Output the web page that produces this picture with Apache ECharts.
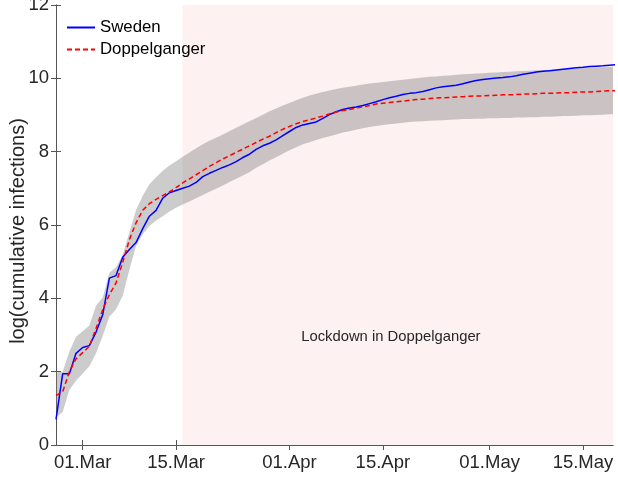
<!DOCTYPE html>
<html>
<head>
<meta charset="utf-8">
<script src="https://cdn.jsdelivr.net/npm/echarts@6/dist/echarts.min.js"></script>
<style>
  html, body { margin: 0; padding: 0; background: #fff; }
  #chart { width: 618px; height: 478px; }
</style>
</head>
<body>
<div id="chart"></div>
<script>
// days counted from 26.Feb.2020 (day 0)
var days = [];
for (var d = 0; d <= 84; d++) days.push(d);

var tickDays = [4, 18, 35, 49, 65, 79];
var tickLabels = ['01.Mar', '15.Mar', '01.Apr', '15.Apr', '01.May', '15.May'];
var lockdownStart = 18.95; // ~16.Mar
var xMax = 83.5;

var sweden = [
  0.70, 1.94, 1.94, 2.50, 2.66, 2.71, 3.08, 3.55, 4.55, 4.62,
  5.12, 5.33, 5.52, 5.90, 6.24, 6.40, 6.73, 6.88, 6.94, 7.00,
  7.06, 7.16, 7.32, 7.41, 7.49, 7.57, 7.64, 7.73, 7.84, 7.93,
  8.06, 8.16, 8.23, 8.32, 8.44, 8.55, 8.66, 8.73, 8.77, 8.81,
  8.91, 9.01, 9.09, 9.15, 9.19, 9.22, 9.26, 9.31, 9.36, 9.42,
  9.47, 9.51, 9.56, 9.59, 9.61, 9.64, 9.69, 9.74, 9.77, 9.79,
  9.81, 9.85, 9.90, 9.94, 9.97, 9.99, 10.01, 10.02, 10.04, 10.07,
  10.11, 10.14, 10.17, 10.19, 10.21, 10.23, 10.25, 10.27, 10.29, 10.30,
  10.32, 10.33, 10.34, 10.36, 10.37
];

var doppelganger = [
  1.35, 1.45, 2.00, 2.35, 2.52, 2.69, 3.18, 3.69, 4.10, 4.42,
  4.98, 5.60, 6.06, 6.40, 6.58, 6.70, 6.80, 6.90, 7.02, 7.15,
  7.26, 7.37, 7.48, 7.60, 7.70, 7.80, 7.89, 7.98, 8.07, 8.16,
  8.25, 8.34, 8.42, 8.52, 8.61, 8.69, 8.76, 8.82, 8.87, 8.92,
  8.97, 9.03, 9.08, 9.12, 9.15, 9.19, 9.22, 9.26, 9.30, 9.32,
  9.34, 9.36, 9.38, 9.40, 9.42, 9.43, 9.45, 9.46, 9.47, 9.48,
  9.49, 9.50, 9.51, 9.52, 9.52, 9.53, 9.54, 9.55, 9.55, 9.56,
  9.57, 9.57, 9.58, 9.59, 9.59, 9.60, 9.61, 9.61, 9.62, 9.63,
  9.63, 9.64, 9.65, 9.66, 9.66
];

var bandUpper = [
  2.00, 2.00, 2.55, 2.95, 3.10, 3.26, 3.80, 4.02, 4.70, 4.85,
  5.19, 5.80, 6.41, 6.80, 7.11, 7.30, 7.48, 7.62, 7.74, 7.86,
  7.98, 8.09, 8.20, 8.30, 8.38, 8.47, 8.56, 8.65, 8.74, 8.83,
  8.92, 9.01, 9.10, 9.18, 9.26, 9.33, 9.40, 9.47, 9.53, 9.58,
  9.63, 9.67, 9.71, 9.74, 9.77, 9.80, 9.83, 9.86, 9.88, 9.90,
  9.92, 9.94, 9.96, 9.98, 10.00, 10.02, 10.04, 10.05, 10.07, 10.08,
  10.10, 10.11, 10.12, 10.13, 10.14, 10.15, 10.16, 10.17, 10.18, 10.19,
  10.20, 10.21, 10.22, 10.23, 10.23, 10.24, 10.25, 10.26, 10.27, 10.28,
  10.29, 10.30, 10.30, 10.31, 10.32
];

var bandLower = [
  0.75, 0.90, 1.50, 1.75, 1.95, 2.15, 2.50, 2.97, 3.50, 3.70,
  4.07, 4.78, 5.43, 5.75, 5.97, 6.12, 6.24, 6.37, 6.47, 6.56,
  6.64, 6.73, 6.82, 6.91, 6.99, 7.08, 7.17, 7.26, 7.35, 7.44,
  7.56, 7.66, 7.76, 7.85, 7.94, 8.04, 8.12, 8.20, 8.26, 8.32,
  8.37, 8.42, 8.47, 8.52, 8.56, 8.60, 8.64, 8.67, 8.70, 8.73,
  8.75, 8.77, 8.79, 8.81, 8.82, 8.83, 8.84, 8.85, 8.86, 8.87,
  8.88, 8.89, 8.89, 8.90, 8.90, 8.91, 8.91, 8.92, 8.92, 8.93,
  8.93, 8.94, 8.94, 8.95, 8.95, 8.96, 8.97, 8.97, 8.98, 8.99,
  8.99, 9.00, 9.01, 9.02, 9.02
];

function pairs(vals) {
  return days.map(function (d, i) { return [d, vals[i]]; });
}

var font = "'Liberation Sans', Arial, sans-serif";
var axisColor = '#555';
var textColor = '#262626';

var myChart = echarts.init(document.getElementById('chart'));
var option = {
  animation: false,
  textStyle: { fontFamily: font },
  grid: { left: 56, right: 5, top: 5, bottom: 33, outerBoundsMode: 'none', show: false },
  legend: {
    orient: 'vertical',
    left: 66,
    top: 19,
    padding: 0,
    itemWidth: 28,
    itemHeight: 14,
    itemGap: 5,
    itemStyle: { opacity: 0 },
    textStyle: { fontSize: 16.8, color: '#000', fontFamily: font, lineHeight: 16.8 },
    data: ['Sweden', 'Doppelganger']
  },
  xAxis: [{
    type: 'value', min: 0, max: xMax,
    splitLine: { show: false },
    axisLine: { lineStyle: { color: axisColor, width: 1 } },
    axisTick: { inside: true, length: 5, customValues: tickDays, lineStyle: { color: axisColor } },
    axisLabel: {
      customValues: tickDays, color: textColor, fontSize: 18.5, margin: 8, fontFamily: font,
      formatter: function (v) { return tickLabels[tickDays.indexOf(v)]; }
    }
  }, {
    type: 'value', min: 0, max: xMax, position: 'top',
    splitLine: { show: false },
    axisLine: { lineStyle: { color: axisColor, width: 1 } },
    axisTick: { inside: true, length: 5, customValues: tickDays, lineStyle: { color: axisColor } },
    axisLabel: { show: false }
  }],
  yAxis: [{
    type: 'value', min: 0, max: 12, interval: 2,
    name: 'log(cumulative infections)',
    nameLocation: 'middle', nameGap: 28, nameMoveOverlap: false,
    nameTextStyle: { fontSize: 20, color: textColor, fontFamily: font, padding: [0, 12, 0, 0] },
    splitLine: { show: false },
    axisLine: { show: true, lineStyle: { color: axisColor, width: 1 } },
    axisTick: { show: true, inside: true, length: 5, lineStyle: { color: axisColor } },
    axisLabel: { color: textColor, fontSize: 18.5, margin: 7, fontFamily: font }
  }, {
    type: 'value', min: 0, max: 12, interval: 2, position: 'right',
    splitLine: { show: false },
    axisLine: { show: true, lineStyle: { color: axisColor, width: 1 } },
    axisTick: { show: true, inside: true, length: 5, lineStyle: { color: axisColor } },
    axisLabel: { show: false }
  }],
  series: [
    {
      // invisible carrier for the lockdown shading
      name: 'lockdown', type: 'line', z: 1,
      data: pairs(bandLower), symbol: 'none', silent: true,
      lineStyle: { opacity: 0 },
      markArea: {
        silent: true,
        itemStyle: { color: 'rgb(253,241,241)' },
        data: [[{ xAxis: lockdownStart }, { xAxis: xMax }]]
      }
    },
    {
      name: 'band', type: 'custom', z: 2, silent: true, clip: true,
      data: days.map(function (d, i) { return [d, bandLower[i], bandUpper[i]]; }),
      encode: { x: 0, y: [1, 2] },
      renderItem: function (params, api) {
        if (params.dataIndex !== 0) return;
        var pts = [];
        for (var i = 0; i < days.length; i++) pts.push(api.coord([days[i], bandUpper[i]]));
        for (var j = days.length - 1; j >= 0; j--) pts.push(api.coord([days[j], bandLower[j]]));
        return { type: 'polygon', shape: { points: pts }, style: { fill: 'rgba(128,128,128,0.4)' } };
      }
    },
    {
      name: 'Sweden', type: 'line', z: 4,
      data: pairs(sweden), symbol: 'none',
      lineStyle: { color: '#0000ff', width: 1.5 },
      itemStyle: { color: '#0000ff' }
    },
    {
      name: 'Doppelganger', type: 'line', z: 5,
      data: pairs(doppelganger), symbol: 'none',
      lineStyle: { color: '#ff0000', width: 1.5, type: [5, 3] },
      itemStyle: { color: '#ff0000' },
      markPoint: {
        silent: true,
        symbol: 'circle', symbolSize: 0,
        label: {
          show: true, position: 'inside', color: textColor, fontSize: 14.8, fontFamily: font,
          formatter: 'Lockdown in Doppelganger'
        },
        data: [{ coord: [50.2, 2.95] }]
      }
    }
  ]
};
myChart.setOption(option);
</script>
</body>
</html>
